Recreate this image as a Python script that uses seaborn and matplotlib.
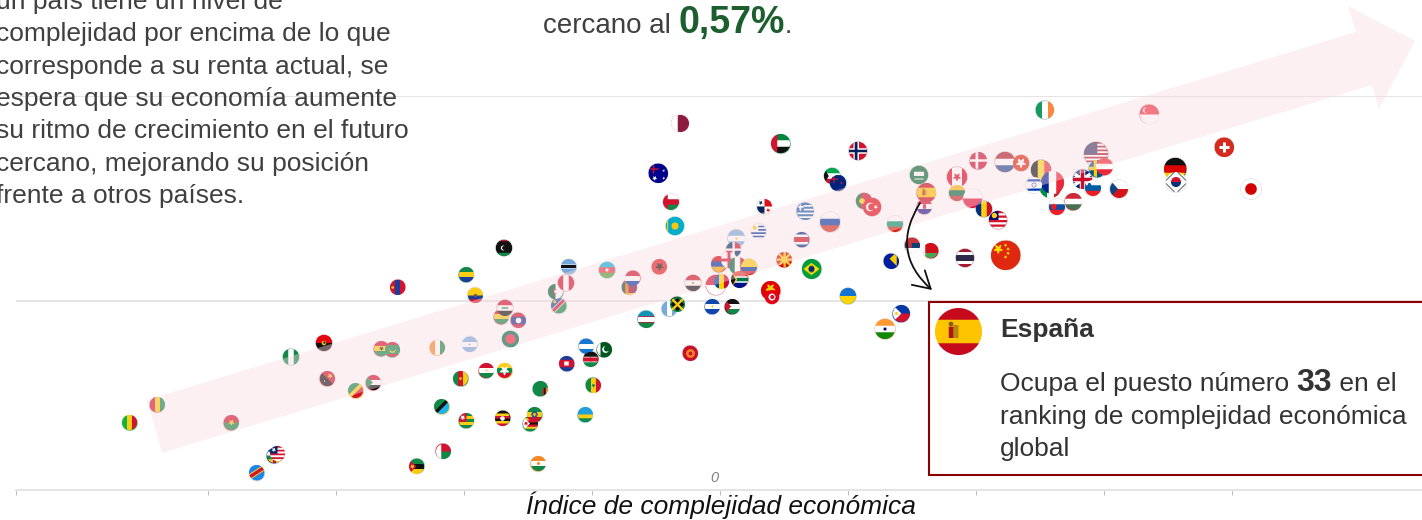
"""
Complejidad economica vs crecimiento esperado, con banderas como puntos
"""

import numpy as np
import pandas as pd
import matplotlib

matplotlib.use("Agg")
import matplotlib.pyplot as plt
import matplotlib.patches as mpatches
from matplotlib.offsetbox import AnnotationBbox, OffsetImage
import seaborn as sns

# Valores
codes = [
    "MLI", "GIN", "BFA", "CAF", "LBR", "COD", "NGA", "AGO", "PNG", "COG", "SDN", "GHA", "MRT",
    "CIV", "NIC", "CMR", "TZA", "TGO", "MDG", "MOZ", "MNG", "ECU", "GAB", "BOL", "LAO", "IRQ",
    "NAM", "BGD", "TJK", "MMR", "HND", "PAK", "KEN", "KHM", "SEN", "ZMB", "UGA", "ZWE", "ETH",
    "RWA", "NER", "KGZ", "UZB", "GTM", "JAM", "SLV", "PSE", "PHL", "IND", "UKR", "VNM", "TUN",
    "QAT", "ARE", "NOR", "AUS", "KWT", "NZL", "OMN", "KAZ", "PAN", "GRC", "RUS", "PRT", "TUR",
    "SAU", "HRV", "ESP", "BGR", "SRB", "BLR", "BIH", "URY", "ARG", "CRI", "DOM", "LBY", "BWA",
    "AZE", "ALB", "LKA", "PRY", "DZA", "PER", "EGY", "ARM", "GEO", "IDN", "MDA", "MEX", "COL",
    "ZAF", "MKD", "BRA", "THA", "IRL", "SGP", "CHE", "DEU", "KOR", "JPN", "USA", "SWE", "AUT",
    "GBR", "SVN", "CZE", "HUN", "SVK", "BEL", "ITA", "FRA", "ISR", "DNK", "NLD", "HKG", "CAN",
    "LTU", "POL", "ROU", "MYS", "CHN",
]
eci = [
    -2.305, -2.199, -1.910, -1.742, -1.730, -1.809, -1.676, -1.547, -1.535, -1.422, -1.355, -1.324, -1.281,
    -1.105, -0.977, -1.012, -1.086, -0.992, -1.082, -1.184, -1.258, -0.957, -0.992, -0.855, -0.789, -0.840,
    -0.629, -0.820, -0.914, -0.840, -0.523, -0.453, -0.504, -0.598, -0.496, -0.703, -0.848, -0.742, -0.723,
    -0.527, -0.711, -0.117, -0.289, -0.199, -0.168, -0.031, 0.047, 0.707, 0.645, 0.500, 0.199, 0.203,
    -0.156, 0.238, 0.539, -0.242, 0.438, 0.461, -0.191, -0.176, 0.172, 0.332, 0.430, 0.563, 0.594,
    0.777, 0.797, 0.805, 0.684, 0.750, 0.824, 0.668, 0.152, 0.063, 0.320, 0.051, -0.844, -0.590,
    -0.441, -0.238, -0.355, -0.340, -0.641, -0.602, -0.105, -0.004, 0.035, -0.016, 0.004, 0.070, 0.113,
    0.078, 0.250, 0.359, 0.957, 1.268, 1.676, 1.969, 1.779, 1.781, 2.074, 1.469, 1.473, 1.500,
    1.416, 1.455, 1.557, 1.379, 1.316, 1.254, 1.289, 1.297, 1.225, 1.008, 1.113, 1.176, 0.926,
    0.926, 0.988, 1.031, 1.086, 1.117,
]
growth = [
    -0.595, -0.507, -0.595, -0.756, -0.746, -0.839, -0.273, -0.205, -0.380, -0.439, -0.400, -0.234, -0.239,
    -0.229, -0.210, -0.380, -0.517, -0.585, -0.732, -0.805, 0.068, 0.029, 0.127, -0.078, -0.093, -0.034,
    -0.024, -0.185, -0.341, -0.341, -0.220, -0.239, -0.283, -0.307, -0.410, -0.429, -0.571, -0.600, -0.556,
    -0.556, -0.795, -0.254, -0.088, -0.039, -0.015, -0.029, -0.029, -0.063, -0.137, 0.024, 0.049, 0.020,
    0.868, 0.766, 0.732, 0.624, 0.610, 0.576, 0.483, 0.366, 0.459, 0.439, 0.385, 0.488, 0.459,
    0.615, 0.459, 0.527, 0.376, 0.273, 0.244, 0.195, 0.341, 0.307, 0.298, 0.249, 0.259, 0.166,
    0.151, 0.166, 0.068, 0.112, 0.044, 0.088, 0.088, 0.176, 0.200, 0.078, 0.093, 0.171, 0.166,
    0.107, 0.200, 0.156, 0.210, 0.932, 0.912, 0.751, 0.644, 0.580, 0.546, 0.717, 0.644, 0.654,
    0.595, 0.551, 0.546, 0.483, 0.459, 0.639, 0.556, 0.576, 0.566, 0.683, 0.678, 0.673, 0.605,
    0.527, 0.498, 0.449, 0.395, 0.224,
]
bubble = [
    15, 15, 15, 15, 15, 15, 16, 16, 15, 15, 15, 15, 15,
    15, 15, 15, 15, 15, 15, 15, 15, 15, 15, 15, 15, 16,
    15, 16, 15, 15, 15, 15, 15, 15, 15, 15, 15, 15, 15,
    15, 15, 15, 17, 15, 15, 15, 15, 17, 20, 16, 19, 14,
    17, 19, 18, 19, 16, 16, 16, 18, 15, 17, 20, 16, 18,
    18, 15, 19, 16, 15, 15, 15, 15, 17, 15, 15, 16, 15,
    16, 15, 15, 15, 15, 16, 16, 15, 16, 20, 15, 17, 16,
    17, 15, 19, 18, 18, 19, 19, 22, 20, 20, 24, 17, 17,
    19, 16, 18, 17, 16, 20, 21, 23, 16, 17, 20, 16, 20,
    16, 19, 16, 18, 29,
]
x_ticks = [-2.75, -2, -1.5, -1, -0.5, 0, 0.5, 1, 1.5, 2]

texto_izq = [
    "un país tiene un nivel de",
    "complejidad por encima de lo que",
    "corresponde a su renta actual, se",
    "espera que su economía aumente",
    "su ritmo de crecimiento en el futuro",
    "cercano, mejorando su posición",
    "frente a otros países.",
]

# Colores
R = "#D3132F"
W = "#FFFFFF"
G = "#108A48"
Y = "#FCCD16"
B = "#1A3E9C"
K = "#111111"
LB = "#74ACDF"
O = "#F58A24"

# Bandera: orientacion, franjas, detalles
FLAGS = {
    "MLI": ("v", ["#14B53A", Y, R]),
    "GIN": ("v", [R, Y, G]),
    "BFA": ("h", [R, G], [("star", Y, 0, 0, 0.4)]),
    "LBR": ("h", [R, W] * 4, [("rect", "#002868", -1, -1, 0, 0), ("star", W, -0.5, -0.5, 0.3)]),
    "CAF": ("h", ["#003082", W, G, Y], [("rect", R, -0.2, -1, 0.2, 1)]),
    "COD": ("h", ["#1C87E8"], [("band", Y, -0.65, 0, 0.42), ("band", R, -0.65, 0, 0.26)]),
    "NGA": ("v", [G, W, G]),
    "AGO": ("h", ["#E8000F", K], [("disc", Y, 0, 0, 0.28), ("disc", K, 0.05, -0.05, 0.14)]),
    "PNG": ("h", [R], [("main", K, 1, 0), ("star", Y, 0.35, -0.35, 0.35), ("disc", W, -0.4, 0.35, 0.08)]),
    "COG": ("h", [Y], [("anti", G, -1, 0.35), ("anti", R, 1, 0.35)]),
    "SDN": ("h", [R, W, K], [("tri", G, 0.9)]),
    "GHA": ("h", [R, Y, G], [("star", K, 0, 0, 0.3)]),
    "MRT": ("h", [G], [("rect", R, -1, -1, 1, -0.6), ("rect", R, -1, 0.6, 1, 1), ("disc", Y, 0, 0.05, 0.4), ("disc", G, 0, -0.1, 0.36)]),
    "CIV": ("v", [O, W, G]),
    "NIC": ("h", [LB, W, LB], [("disc", LB, 0, 0, 0.12)]),
    "CMR": ("v", [G, R, Y], [("star", Y, 0, 0, 0.25)]),
    "TZA": ("h", [Y], [("anti", G, -1, 0.3), ("anti", "#1EB4E8", 1, 0.3), ("band", K, -1, 0, 0.32)]),
    "TGO": ("h", [G, Y, G, Y, G], [("rect", R, -1, -1, 0, 0.2), ("star", W, -0.5, -0.4, 0.35)]),
    "MDG": ("h", [R, G], [("rect", W, -1, -1, -0.3, 1)]),
    "MOZ": ("h", [G, K, Y], [("tri", R, 1.0), ("star", Y, -0.55, 0, 0.3)]),
    "MNG": ("v", [R, B, R], [("disc", Y, -0.65, 0, 0.18)]),
    "ECU": ("h", [Y, Y, B, R], [("disc", "#7A5A2A", 0, 0, 0.22)]),
    "GAB": ("h", [G, Y, B]),
    "BOL": ("h", [R, Y, G]),
    "LAO": ("h", [R, "#1A2E8C", "#1A2E8C", R], [("disc", W, 0, 0, 0.38)]),
    "IRQ": ("h", [R, W, K], [("rect", G, -0.4, -0.1, 0.4, 0.1)]),
    "NAM": ("h", [G], [("anti", "#1A4FA0", -1, 0), ("band", W, -1, 0, 0.42), ("band", R, -1, 0, 0.28), ("disc", Y, -0.5, -0.5, 0.2)]),
    "BGD": ("h", ["#006A4E"], [("disc", "#F42A41", 0, 0, 0.6)]),
    "TJK": ("h", [R, W, G], [("disc", Y, 0, 0, 0.14)]),
    "MMR": ("h", [Y, G, R], [("star", W, 0, 0, 0.65)]),
    "HND": ("h", ["#1577CF", W, "#1577CF"]),
    "PAK": ("h", ["#01561F"], [("rect", W, -1, -1, -0.55, 1), ("disc", W, 0.15, 0, 0.45), ("disc", "#01561F", 0.3, -0.1, 0.38)]),
    "KEN": ("h", [K, R, G], [("rect", W, -1, -0.36, 1, -0.28), ("rect", W, -1, 0.28, 1, 0.36), ("disc", R, 0, 0, 0.3)]),
    "KHM": ("h", [B, R, R, B], [("rect", W, -0.3, -0.25, 0.3, 0.25)]),
    "SEN": ("v", [G, Y, R], [("star", G, 0, 0, 0.28)]),
    "ZMB": ("h", [G], [("rect", R, 0.3, -0.1, 0.5, 1), ("rect", K, 0.5, -0.1, 0.7, 1), ("rect", O, 0.7, -0.1, 1, 1)]),
    "UGA": ("h", [K, Y, R, K, Y, R], [("disc", W, 0, 0, 0.3)]),
    "ZWE": ("h", [G, Y, R, K, R, Y, G], [("tri", W, 0.9), ("star", R, -0.6, 0, 0.3)]),
    "ETH": ("h", [G, Y, R], [("disc", "#1A4FA0", 0, 0, 0.42), ("star", Y, 0, 0, 0.3)]),
    "RWA": ("h", ["#20A0D8", "#20A0D8", Y, G]),
    "NER": ("h", [O, W, G], [("disc", O, 0, 0, 0.2)]),
    "KGZ": ("h", ["#C8102E"], [("disc", O, 0, 0, 0.58), ("disc", R, 0, 0, 0.26)]),
    "UZB": ("h", ["#1296B8", W, G], [("rect", R, -1, -0.38, 1, -0.3), ("rect", R, -1, 0.3, 1, 0.38)]),
    "GTM": ("v", [LB, W, LB]),
    "JAM": ("v", [K], [("anti", G, -1, 0.9), ("anti", G, 1, 0.9), ("main", G, 1, 0.9), ("main", G, -1, 0.9), ("band", Y, -1, 0, 0.22), ("band", Y, 1, 0, 0.22)]),
    "SLV": ("h", ["#0F47AF", W, "#0F47AF"], [("disc", Y, 0, 0, 0.14)]),
    "PSE": ("h", [K, W, G], [("tri", R, 0.8)]),
    "PHL": ("h", ["#0038A8", R], [("tri", W, 1.0), ("disc", Y, -0.6, 0, 0.18)]),
    "IND": ("h", ["#FF9933", W, "#138808"], [("disc", "#000080", 0, 0, 0.16)]),
    "UKR": ("h", ["#1673D0", "#FFD500"]),
    "VNM": ("h", ["#E00000"], [("star", "#FFD500", 0, -0.2, 0.55)]),
    "TUN": ("h", ["#E70013"], [("disc", W, 0, 0, 0.5), ("disc", R, 0.05, 0, 0.3)]),
    "QAT": ("v", [W, "#8D1B3D", "#8D1B3D"]),
    "ARE": ("h", ["#00843D", W, K], [("rect", R, -1, -1, -0.35, 1)]),
    "NOR": ("h", [R], [("cross", W, -0.2, 0.3), ("cross", "#00205B", -0.2, 0.15)]),
    "AUS": ("h", ["#00008B"], [("rect", "#C8102E", -0.6, -1, -0.45, 0), ("rect", "#C8102E", -1, -0.55, 0, -0.4), ("star", W, -0.4, 0.5, 0.25), ("star", W, 0.55, -0.3, 0.14), ("star", W, 0.55, 0.5, 0.14)]),
    "KWT": ("h", ["#00A651", W, "#CE1126"], [("tri", K, 0.6)]),
    "NZL": ("h", ["#00247D"], [("rect", R, -0.6, -1, -0.45, 0), ("rect", R, -1, -0.55, 0, -0.4), ("star", R, 0.45, 0, 0.18)]),
    "OMN": ("h", [W, R, G], [("rect", R, -1, -1, -0.4, 1)]),
    "KAZ": ("h", ["#00AFCA"], [("disc", "#FEC50C", 0, 0, 0.4), ("rect", "#FEC50C", -0.9, -0.6, -0.75, 0.6)]),
    "PAN": ("h", [W], [("rect", "#DA121A", 0, -1, 1, 0), ("rect", "#072357", -1, 0, 0, 1), ("star", "#072357", -0.5, -0.5, 0.28), ("star", "#DA121A", 0.5, 0.5, 0.28)]),
    "GRC": ("h", ["#0D5EAF", W] * 4 + ["#0D5EAF"], [("rect", "#0D5EAF", -1, -1, -0.2, -0.1), ("rect", W, -0.7, -1, -0.5, -0.1), ("rect", W, -1, -0.65, -0.2, -0.45)]),
    "RUS": ("h", [W, "#0039A6", "#D52B1E"]),
    "PRT": ("v", ["#046A38", R, R], [("disc", Y, -0.25, 0, 0.35)]),
    "TUR": ("h", ["#E30A17"], [("disc", W, -0.2, 0, 0.48), ("disc", "#E30A17", -0.05, 0, 0.38), ("star", W, 0.42, 0, 0.24)]),
    "SAU": ("h", ["#006C35"], [("rect", W, -0.55, -0.35, 0.55, 0.1), ("rect", W, -0.5, 0.4, 0.5, 0.5)]),
    "HRV": ("h", [R, W, "#171796"], [("rect", R, -0.2, -0.3, 0.2, 0.3)]),
    "ESP": ("h", ["#C60B1E", "#FFC400", "#FFC400", "#C60B1E"], [("rect", "#AD1519", -0.42, -0.2, -0.22, 0.28), ("rect", "#B8860B", -0.22, -0.28, 0.0, 0.28), ("disc", "#8A5A1A", -0.32, -0.32, 0.1)]),
    "BGR": ("h", [W, "#00966E", "#D62612"]),
    "SRB": ("h", ["#C6363C", "#0C4076", W], [("rect", "#C6363C", -0.55, -0.45, -0.1, 0.3)]),
    "BLR": ("h", ["#CF101A", "#CF101A", "#4AA657"], [("rect", W, -1, -1, -0.7, 1)]),
    "BIH": ("h", ["#001F9E"], [("main", "#FECB00", -1, 0.1), ("anti", "#001F9E", -1, 0.6), ("rect", "#001F9E", 0.7, -1, 1, 1)]),
    "URY": ("h", [W, "#0038A8"] * 4 + [W], [("rect", W, -1, -1, -0.05, -0.05), ("disc", Y, -0.5, -0.5, 0.28)]),
    "ARG": ("h", [LB, W, LB], [("disc", Y, 0, 0, 0.14)]),
    "CRI": ("h", ["#002B7F", W, "#CE1126", "#CE1126", W, "#002B7F"]),
    "DOM": ("h", [W], [("rect", "#002D62", -1, -1, -0.15, -0.15), ("rect", "#CE1126", 0.15, -1, 1, -0.15), ("rect", "#CE1126", -1, 0.15, -0.15, 1), ("rect", "#002D62", 0.15, 0.15, 1, 1)]),
    "LBY": ("h", [K, K, K, K, G], [("rect", R, -1, -1, 1, -0.85), ("disc", W, -0.1, 0, 0.3), ("disc", K, 0, 0, 0.24)]),
    "BWA": ("h", ["#75AADB", "#75AADB", K, "#75AADB", "#75AADB"], [("rect", W, -1, -0.28, 1, -0.2), ("rect", W, -1, 0.2, 1, 0.28)]),
    "AZE": ("h", ["#00B5E2", "#EF3340", "#509E2F"], [("disc", W, 0, 0, 0.2)]),
    "ALB": ("h", ["#E41E20"], [("star", K, 0, 0, 0.55)]),
    "LKA": ("h", ["#8D153A"], [("rect", "#FFBE29", -1, -1, 1, -0.75), ("rect", "#FFBE29", -1, 0.75, 1, 1), ("rect", "#005641", -1, -0.8, -0.55, 0.8), ("rect", "#FF7300", -0.55, -0.8, -0.15, 0.8)]),
    "PRY": ("h", [R, W, "#0038A8"]),
    "DZA": ("v", ["#006233", W], [("disc", R, 0, 0, 0.35), ("disc", W, 0.12, 0, 0.28)]),
    "PER": ("v", [R, W, R]),
    "EGY": ("h", ["#CE1126", W, K], [("disc", "#C09300", 0, 0, 0.14)]),
    "ARM": ("h", ["#D90012", "#0033A0", "#F2A800"]),
    "GEO": ("h", [W], [("cross", R, 0, 0.2)]),
    "IDN": ("h", [R, W]),
    "MDA": ("v", ["#0046AE", "#FFD200", "#CC092F"]),
    "MEX": ("v", ["#006847", W, "#CE1126"]),
    "COL": ("h", ["#FCD116", "#FCD116", "#003893", "#CE1126"]),
    "ZAF": ("h", ["#E03C31", "#001489"], [("rect", W, -1, -0.38, 1, 0.38), ("rect", "#007749", -1, -0.22, 1, 0.22), ("tri", Y, 0.75), ("tri", K, 0.55)]),
    "MKD": ("h", ["#D20000"], [("band", Y, 1, 0, 0.2), ("band", Y, -1, 0, 0.2), ("rect", Y, -1, -0.15, 1, 0.15), ("rect", Y, -0.15, -1, 0.15, 1), ("disc", Y, 0, 0, 0.3)]),
    "BRA": ("h", ["#009C3B"], [("dia", "#FFDF00", 0.85), ("disc", "#002776", 0, 0, 0.32)]),
    "THA": ("h", ["#A51931", W, "#2D2A4A", "#2D2A4A", W, "#A51931"]),
    "IRL": ("v", ["#169B62", W, "#FF883E"]),
    "SGP": ("h", ["#EF3340", W], [("disc", W, -0.4, -0.45, 0.28), ("disc", "#EF3340", -0.28, -0.45, 0.26)]),
    "CHE": ("h", ["#D52B1E"], [("rect", W, -0.52, -0.17, 0.52, 0.17), ("rect", W, -0.17, -0.52, 0.17, 0.52)]),
    "DEU": ("h", [K, "#DD0000", "#FFCE00"]),
    "KOR": ("h", [W], [("disc", R, 0, 0, 0.5), ("lowdisc", "#003478", 0, 0, 0.5), ("band", "#555555", 1, 1.15, 0.07), ("band", "#555555", 1, -1.15, 0.07), ("band", "#555555", -1, 1.15, 0.07), ("band", "#555555", -1, -1.15, 0.07)]),
    "JPN": ("h", [W], [("disc", "#D30000", 0, 0, 0.58)]),
    "USA": ("h", ["#B22234", W] * 6 + ["#B22234"], [("rect", "#3C3B6E", -1, -1, 0.1, 0.05)]),
    "SWE": ("h", ["#005293"], [("cross", "#FECB00", -0.25, 0.2)]),
    "AUT": ("h", ["#ED2939", W, "#ED2939"]),
    "GBR": ("h", ["#012169"], [("band", W, 0.7, 0, 0.22), ("band", W, -0.7, 0, 0.22), ("cross", W, 0, 0.3), ("cross", "#C8102E", 0, 0.18)]),
    "SVN": ("h", [W, "#005DA4", "#ED1C24"], [("disc", "#005DA4", -0.45, -0.4, 0.22)]),
    "CZE": ("h", [W, "#D7141A"], [("tri", "#11457E", 0.9)]),
    "HUN": ("h", ["#CE2939", W, "#477050"]),
    "SVK": ("h", [W, "#0B4EA2", "#EE1C25"], [("disc", "#EE1C25", -0.4, -0.05, 0.35)]),
    "BEL": ("v", [K, "#FDDA24", "#EF3340"]),
    "ITA": ("v", ["#008C45", W, "#CD212A"]),
    "FRA": ("v", ["#002395", W, "#ED2939"]),
    "ISR": ("h", [W, "#0038B8", W, W, W, "#0038B8", W], [("disc", "#0038B8", 0, 0, 0.3), ("disc", W, 0, 0, 0.22)]),
    "DNK": ("h", ["#C8102E"], [("cross", W, -0.2, 0.16)]),
    "NLD": ("h", ["#AE1C28", W, "#21468B"]),
    "HKG": ("h", ["#DE2910"], [("star", W, 0, 0, 0.65)]),
    "CAN": ("v", ["#D80621", W, W, "#D80621"], [("star", "#D80621", 0, 0, 0.42)]),
    "LTU": ("h", ["#FDB913", "#006A44", "#C1272D"]),
    "POL": ("h", [W, "#DC143C"]),
    "ROU": ("v", ["#002B7F", "#FCD116", "#CE1126"]),
    "MYS": ("h", [R, W] * 4, [("rect", "#010066", -1, -1, 0.05, 0.0), ("disc", Y, -0.4, -0.5, 0.3)]),
    "CHN": ("h", ["#DE2910"], [("star", "#FFDE00", -0.5, -0.45, 0.34), ("star", "#FFDE00", 0, -0.72, 0.12), ("star", "#FFDE00", 0.18, -0.45, 0.12), ("star", "#FFDE00", 0.18, -0.15, 0.12), ("star", "#FFDE00", 0, 0.1, 0.12)]),
}


def star_mask(u, v, r):
    # estrella de cinco puntas en coordenadas polares
    ang = np.arctan2(u, -v) % (2 * np.pi / 5)
    ang = np.abs(ang - np.pi / 5)
    rho = np.hypot(u, v)
    edge = r * 0.382
    limit = edge + (r - edge) * (np.pi / 5 - ang) / (np.pi / 5)
    return rho <= limit


def paint_flag(code, diam, ss=4):
    """Pinta la bandera como un circulo RGBA de diam pixeles"""
    spec = FLAGS[code]
    orient, stripes = spec[0], spec[1]
    extras = spec[2] if len(spec) > 2 else []

    n = diam * ss
    coords = (np.arange(n) + 0.5) / n * 2 - 1
    u, v = np.meshgrid(coords, coords)
    pos = v if orient == "h" else u
    idx = np.clip(((pos + 1) / 2 * len(stripes)).astype(int), 0, len(stripes) - 1)
    palette = np.array([matplotlib.colors.to_rgb(c) for c in stripes])
    img = palette[idx]

    for item in extras:
        kind, color = item[0], matplotlib.colors.to_rgb(item[1])
        args = item[2:]
        if kind == "disc":
            mask = np.hypot(u - args[0], v - args[1]) <= args[2]
        elif kind == "lowdisc":
            mask = (np.hypot(u - args[0], v - args[1]) <= args[2]) & (v > args[1])
        elif kind == "star":
            mask = star_mask(u - args[0], v - args[1], args[2])
        elif kind == "rect":
            mask = (u >= args[0]) & (v >= args[1]) & (u <= args[2]) & (v <= args[3])
        elif kind == "tri":
            mask = (u + 1) < args[0] * (1 - np.abs(v))
        elif kind == "band":
            mask = np.abs(v - args[0] * u - args[1]) < args[2]
        elif kind == "cross":
            mask = (np.abs(u - args[0]) < args[1]) | (np.abs(v) < args[1])
        elif kind == "anti":
            mask = args[0] * (u + v) > args[1]
        elif kind == "main":
            mask = args[0] * (v - u) > args[1]
        elif kind == "dia":
            mask = np.abs(u) + np.abs(v) * 1.4 < args[0]
        img = np.where(mask[..., None], color, img)

    alpha = (np.hypot(u, v) <= 1).astype(float)
    rgba = np.dstack([img * alpha[..., None], alpha])
    rgba = rgba.reshape(diam, ss, diam, ss, 4).mean(axis=(1, 3))
    rgba[..., :3] = rgba[..., :3] / np.maximum(rgba[..., 3:], 1e-6)
    return np.clip(rgba, 0, 1)


def text_runs(ax, x, y, parts):
    """Escribe trozos de texto seguidos con estilos distintos"""
    renderer = ax.figure.canvas.get_renderer()
    for label, kw in parts:
        t = ax.text(x, y, label, va="baseline", ha="left", **kw)
        box = t.get_window_extent(renderer)
        x = x + box.width


def flag_box(code, diam, xy):
    return AnnotationBbox(
        OffsetImage(paint_flag(code, diam), zoom=1, dpi_cor=False, interpolation="bilinear"),
        xy,
        xycoords="data",
        frameon=False,
        pad=0,
        annotation_clip=False,
        zorder=4,
    )


def main():
    sns.set_theme(style="white")
    plt.rcParams["font.family"] = ["Liberation Sans", "DejaVu Sans"]

    df = pd.DataFrame({"code": codes, "eci": eci, "growth": growth, "bubble": bubble})
    base_colors = {c: FLAGS[c][1][0] for c in codes}

    fig = plt.figure(figsize=(14.22, 5.20), dpi=100)
    ax = fig.add_axes([16 / 1422, 1 - 490 / 520, (1422 - 16) / 1422, (490 - 96) / 520])

    sns.scatterplot(
        data=df,
        x="eci",
        y="growth",
        hue="code",
        palette=base_colors,
        s=(df["bubble"] * 0.72 + 0.6) ** 2,
        edgecolor="#dddddd",
        linewidth=0.5,
        legend=False,
        clip_on=False,
        zorder=3,
        ax=ax,
    )
    for row in df.itertuples():
        ax.add_artist(flag_box(row.code, row.bubble, (row.eci, row.growth)))

    ax.set_xlim(-2.75, 2.742)
    ax.set_ylim(-0.922, 1.0)
    ax.set_xticks(x_ticks)
    ax.set_xticklabels([])
    ax.set_yticks([0, 1])
    ax.set_yticklabels([])
    ax.set_ylabel("")
    ax.set_xlabel("Índice de complejidad económica", fontsize=19, fontstyle="italic", color="#111111")
    ax.xaxis.set_label_coords((721 - 16) / 1406, -0.004)
    ax.grid(axis="y", color="#e4e4e4", linewidth=1.4)
    ax.grid(axis="x", visible=False)
    ax.tick_params(axis="x", bottom=True, length=3.5, width=0.7, color="#bbbbbb", pad=0)
    ax.tick_params(axis="y", left=False)
    sns.despine(ax=ax, left=True, top=True, right=True)
    ax.spines["bottom"].set_color("#e4e4e4")
    ax.spines["bottom"].set_linewidth(1.4)
    ax.set_facecolor("none")

    # Capa en pixeles para flecha, textos y recuadro
    ov = fig.add_axes([0, 0, 1, 1], facecolor="none")
    ov.set_xlim(0, 1422)
    ov.set_ylim(520, 0)
    ov.axis("off")

    arrow_shape = [(147, 400), (1356, 32), (1348, 6), (1415, 41), (1379, 109), (1372, 85), (162, 453)]
    ov.add_patch(mpatches.Polygon(arrow_shape, closed=True, facecolor="#F8DCE0", edgecolor="none", alpha=0.42, zorder=1))

    ink = "#404040"
    for i, line in enumerate(texto_izq):
        ov.text(-4, 9 + i * 32.3, line, fontsize=19, color=ink, ha="left", va="baseline", zorder=5)

    text_runs(ov, 543, 33, [
        ("cercano al ", dict(fontsize=20, color=ink)),
        ("0,57%", dict(fontsize=27, color="#1C5E2E", fontweight="bold")),
        (".", dict(fontsize=19, color=ink)),
    ])

    ov.text(714, 482, "0", fontsize=10.5, color="#808080", fontstyle="italic", ha="center", va="baseline")

    # Recuadro de Espana
    ov.add_patch(mpatches.Rectangle((928.5, 302), 520, 173, facecolor="white", edgecolor="#8B0000", linewidth=1.5, zorder=6))
    big = flag_box("ESP", 47, (958, 332))
    big.set_zorder(7)
    ov.add_artist(big)
    dark = "#333333"
    ov.text(1000, 337, "España", fontsize=19, fontweight="bold", color=dark, zorder=7)
    text_runs(ov, 1000, 391, [
        ("Ocupa el puesto número ", dict(fontsize=19, color=dark, zorder=7)),
        ("33", dict(fontsize=23, color=dark, fontweight="bold", zorder=7)),
        (" en el", dict(fontsize=19, color=dark, zorder=7)),
    ])
    ov.text(1000, 424, "ranking de complejidad económica", fontsize=19, color=dark, zorder=7)
    ov.text(1000, 456, "global", fontsize=19, color=dark, zorder=7)

    curve = mpatches.FancyArrowPatch(
        (920, 203),
        (932, 290),
        connectionstyle="arc3,rad=0.42",
        arrowstyle="->,head_length=12,head_width=7",
        color="#111111",
        linewidth=1.3,
        shrinkA=0,
        shrinkB=0,
        zorder=8,
    )
    ov.add_patch(curve)

    fig.savefig("out.png", dpi=100)
    plt.close(fig)


if __name__ == "__main__":
    main()
